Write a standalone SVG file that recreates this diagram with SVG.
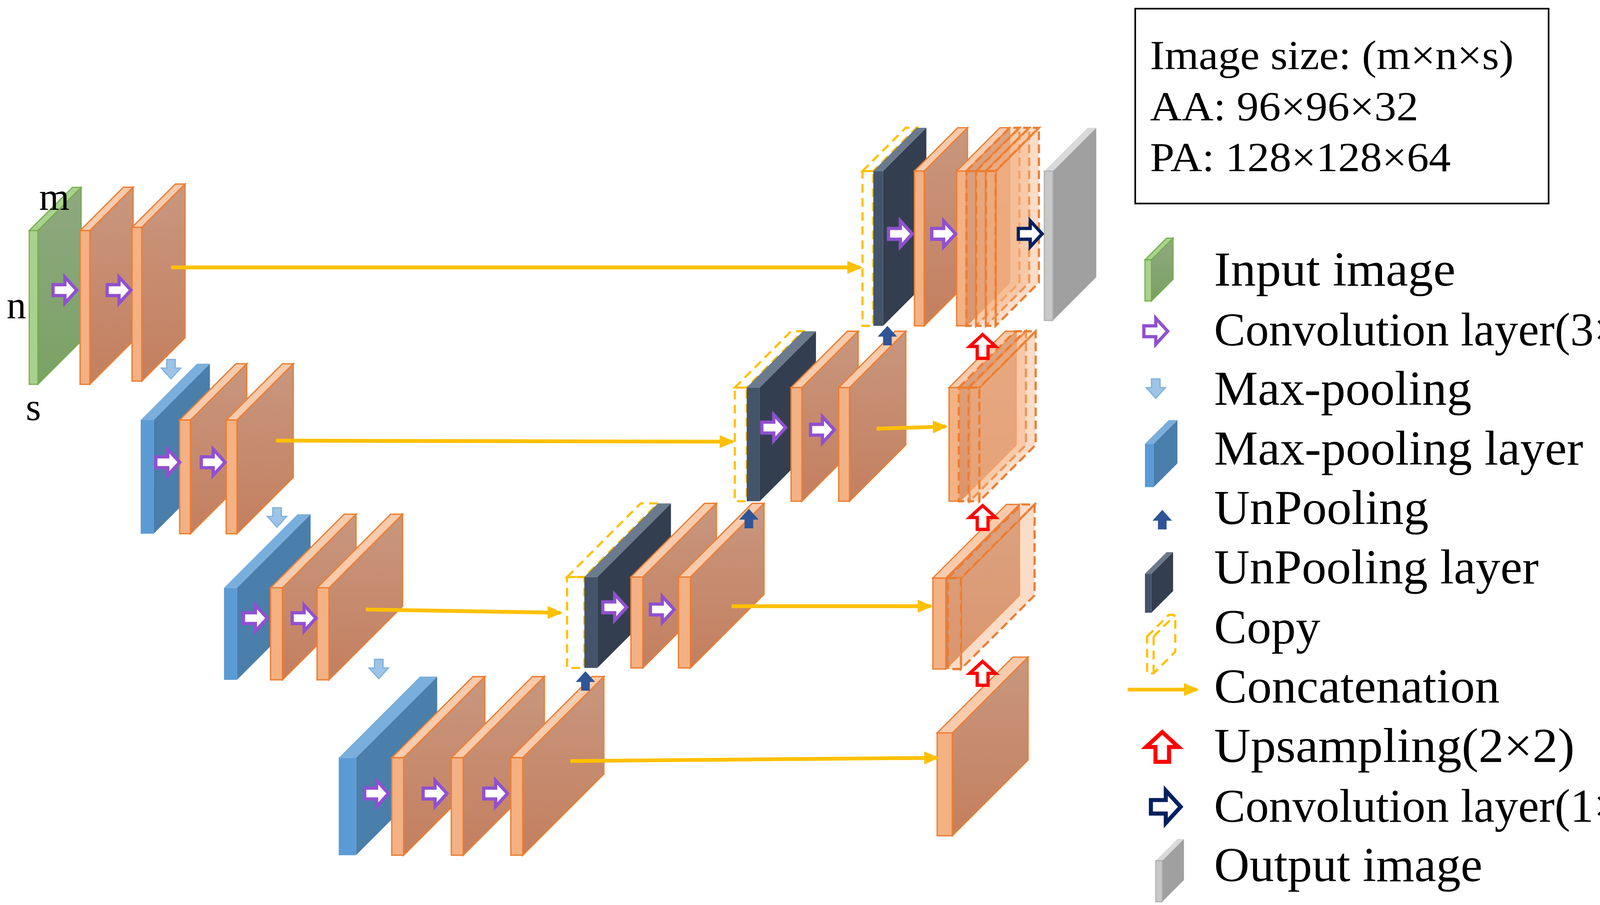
<svg xmlns="http://www.w3.org/2000/svg" width="4344" height="2316" viewBox="0 0 4344 2316">
<style>
.of{fill:url(#og);stroke:#ed7d31;stroke-width:1.2}
.ot{fill:#f8cbad;stroke:#ed7d31;stroke-width:1.2}
.os{fill:#f4b183;stroke:#ed7d31;stroke-width:1.2}
.cp{fill:#f4b183;fill-opacity:0.45;stroke:#ed7d31;stroke-width:2;stroke-dasharray:8 4}
.gf{fill:url(#gg);stroke:#70ad47;stroke-width:1}
.gs{fill:#a9d18e;stroke:#70ad47;stroke-width:1}
.bf{fill:#4a7eab}.bt{fill:#7aaedc}.bs{fill:#5b9bd5}
.df{fill:#333f50}.dt{fill:#6b7a8c}.ds{fill:#44546a}
.yf{fill:#a0a0a0}.yt{fill:#d9d9d9}.ys{fill:#c8c8c8;stroke:#b0b0b0;stroke-width:1}
.copy{fill:none;stroke:#ffc000;stroke-width:2;stroke-dasharray:8 5}
.cn{stroke:#ffc000;stroke-width:3.5;fill:none;marker-end:url(#ah)}
.pu{fill:#fff;stroke:#9050d0;stroke-width:3}
.nv{fill:#fff;stroke:#002060;stroke-width:3}
.rd{fill:#fff;stroke:#ff0000;stroke-width:3}
.dn{fill:#9dc3e6;stroke:#7aaedc;stroke-width:1}
.up{fill:#2f5597}
</style>
<defs>
<linearGradient id="og" x1="0" y1="0" x2="0" y2="1"><stop offset="0" stop-color="#c8977f"/><stop offset="1" stop-color="#c47f5f"/></linearGradient>
<linearGradient id="gg" x1="0" y1="0" x2="0" y2="1"><stop offset="0" stop-color="#8fa880"/><stop offset="1" stop-color="#7aa265"/></linearGradient>
<marker id="ah" markerUnits="userSpaceOnUse" markerWidth="14" markerHeight="12" refX="12" refY="6" orient="auto"><path d="M0,0 L14,6 L0,12 Z" fill="#ffc000"/></marker>
<polygon id="ra" points="-11,-5 0,-5 0,-12 11,0 0,12 0,5 -11,5"/>
<polygon id="ua" points="-5,11 -5,0 -12,0 0,-11 12,0 5,0 5,11"/>
<polygon id="da" points="-4,-10 4,-10 4,-2 9,-2 0,8 -9,-2 -4,-2"/>
<polygon id="uf" points="-4,10 4,10 4,2 9,2 0,-8 -9,2 -4,2"/>
</defs>
<rect width="4344" height="2316" fill="#fff"/>
<g transform="scale(2.7704)">
<g id="encoder1">
<polygon class="gf" points="35,213 75,173 75,315 35,355"/><polygon class="gs" points="27,213 67,173 75,173 35,213"/><rect class="gs" x="27" y="213" width="8" height="142"/>
<polygon class="of" points="83,213 123,173 123,315 83,355"/><polygon class="ot" points="74,213 114,173 123,173 83,213"/><rect class="os" x="74" y="213" width="9" height="142"/>
<polygon class="of" points="131,210 171,170 171,312 131,352"/><polygon class="ot" points="122,210 162,170 171,170 131,210"/><rect class="os" x="122" y="210" width="9" height="142"/>
</g>
<g id="encoder2">
<polygon class="bf" points="142,388 194,336 194,441 142,493"/><polygon class="bt" points="130,388 182,336 194,336 142,388"/><rect class="bs" x="130" y="388" width="12" height="105"/>
<polygon class="of" points="176,388 228,336 228,441 176,493"/><polygon class="ot" points="166,388 218,336 228,336 176,388"/><rect class="os" x="166" y="388" width="10" height="105"/>
<polygon class="of" points="219,388 271,336 271,441 219,493"/><polygon class="ot" points="209,388 261,336 271,336 219,388"/><rect class="os" x="209" y="388" width="10" height="105"/>
</g>
<g id="encoder3">
<polygon class="bf" points="219,543 287,475 287,560 219,628"/><polygon class="bt" points="207,543 275,475 287,475 219,543"/><rect class="bs" x="207" y="543" width="12" height="85"/>
<polygon class="of" points="261,543 329,475 329,560 261,628"/><polygon class="ot" points="250,543 318,475 329,475 261,543"/><rect class="os" x="250" y="543" width="11" height="85"/>
<polygon class="of" points="304,543 372,475 372,560 304,628"/><polygon class="ot" points="293,543 361,475 372,475 304,543"/><rect class="os" x="293" y="543" width="11" height="85"/>
</g>
<g id="bottleneck">
<polygon class="bf" points="329,700 404,625 404,715 329,790"/><polygon class="bt" points="313,700 388,625 404,625 329,700"/><rect class="bs" x="313" y="700" width="16" height="90"/>
<polygon class="of" points="373,700 448,625 448,715 373,790"/><polygon class="ot" points="362,700 437,625 448,625 373,700"/><rect class="os" x="362" y="700" width="11" height="90"/>
<polygon class="of" points="428,700 503,625 503,715 428,790"/><polygon class="ot" points="417,700 492,625 503,625 428,700"/><rect class="os" x="417" y="700" width="11" height="90"/>
<polygon class="of" points="483,700 558,625 558,715 483,790"/><polygon class="ot" points="472,700 547,625 558,625 483,700"/><rect class="os" x="472" y="700" width="11" height="90"/>
</g>
<g id="decoder3">
<rect class="copy" x="524" y="533" width="16" height="84"/><polygon class="copy" points="524,533 592,465 608,465 540,533"/>
<polygon class="df" points="552,533 620,465 620,549 552,617"/><polygon class="dt" points="540,533 608,465 620,465 552,533"/><rect class="ds" x="540" y="533" width="12" height="84"/>
<polygon class="of" points="594,533 662,465 662,549 594,617"/><polygon class="ot" points="583,533 651,465 662,465 594,533"/><rect class="os" x="583" y="533" width="11" height="84"/>
<polygon class="of" points="638,533 706,465 706,549 638,617"/><polygon class="ot" points="627,533 695,465 706,465 638,533"/><rect class="os" x="627" y="533" width="11" height="84"/>
</g>
<g id="decoder2">
<rect class="copy" x="679" y="358" width="11" height="105"/><polygon class="copy" points="679,358 731,306 742,306 690,358"/>
<polygon class="df" points="702,358 754,306 754,411 702,463"/><polygon class="dt" points="690,358 742,306 754,306 702,358"/><rect class="ds" x="690" y="358" width="12" height="105"/>
<polygon class="of" points="741,358 793,306 793,411 741,463"/><polygon class="ot" points="731,358 783,306 793,306 741,358"/><rect class="os" x="731" y="358" width="10" height="105"/>
<polygon class="of" points="785,358 837,306 837,411 785,463"/><polygon class="ot" points="775,358 827,306 837,306 785,358"/><rect class="os" x="775" y="358" width="10" height="105"/>
</g>
<g id="decoder1">
<rect class="copy" x="797" y="158" width="10" height="143"/><polygon class="copy" points="797,158 837,118 847,118 807,158"/>
<polygon class="df" points="816,158 856,118 856,261 816,301"/><polygon class="dt" points="807,158 847,118 856,118 816,158"/><rect class="ds" x="807" y="158" width="9" height="143"/>
<polygon class="of" points="854,158 894,118 894,261 854,301"/><polygon class="ot" points="845,158 885,118 894,118 854,158"/><rect class="os" x="845" y="158" width="9" height="143"/>
<polygon class="of" points="893,158 933,118 933,261 893,301"/><polygon class="ot" points="884,158 924,118 933,118 893,158"/><rect class="os" x="884" y="158" width="9" height="143"/>
<polygon class="cp" points="902,158 942,118 942,261 902,301"/><polygon class="cp" points="893,158 933,118 942,118 902,158"/><rect class="cp" x="893" y="158" width="9" height="143"/>
<polygon class="cp" points="911,158 951,118 951,261 911,301"/><polygon class="cp" points="902,158 942,118 951,118 911,158"/><rect class="cp" x="902" y="158" width="9" height="143"/>
<polygon class="cp" points="920,158 960,118 960,261 920,301" fill-opacity="0.3"/><polygon class="cp" points="911,158 951,118 960,118 920,158"/><rect class="cp" x="911" y="158" width="9" height="143"/>
</g>
<g id="output">
<polygon class="yf" points="973,158 1013,118 1013,256 973,296"/><polygon class="yt" points="965,158 1005,118 1013,118 973,158"/><rect class="ys" x="965" y="158" width="8" height="138"/>
</g>
<g id="up2">
<polygon class="of" points="887,358 939,306 939,411 887,463"/><polygon class="ot" points="877,358 929,306 939,306 887,358"/><rect class="os" x="877" y="358" width="10" height="105"/>
<polygon class="cp" points="896,358 948,306 948,411 896,463"/><polygon class="cp" points="886,358 938,306 948,306 896,358"/><rect class="cp" x="886" y="358" width="10" height="105"/>
<polygon class="cp" points="905,358 957,306 957,411 905,463" fill-opacity="0.3"/><polygon class="cp" points="895,358 947,306 957,306 905,358"/><rect class="cp" x="895" y="358" width="10" height="105"/>
</g>
<g id="up3">
<polygon class="of" points="874,534 942,466 942,550 874,618"/><polygon class="ot" points="862,534 930,466 942,466 874,534"/><rect class="os" x="862" y="534" width="12" height="84"/>
<polygon class="cp" points="888,534 956,466 956,550 888,618" fill-opacity="0.3"/><polygon class="cp" points="876,534 944,466 956,466 888,534"/><rect class="cp" x="876" y="534" width="12" height="84"/>
</g>
<g id="up4">
<polygon class="of" points="880,677 950,607 950,702 880,772"/><polygon class="ot" points="866,677 936,607 950,607 880,677"/><rect class="os" x="866" y="677" width="14" height="95"/>
</g>
<g id="connectors">
<line class="cn" x1="158" y1="247" x2="795" y2="247"/>
<line class="cn" x1="255" y1="407" x2="677" y2="408"/>
<line class="cn" x1="338" y1="563" x2="518" y2="566"/>
<line class="cn" x1="527" y1="703" x2="866" y2="700"/>
<line class="cn" x1="676" y1="560" x2="860" y2="560"/>
<line class="cn" x1="810" y1="396" x2="874" y2="394"/>
<g class="pu">
<use href="#ra" x="60" y="268"/><use href="#ra" x="110" y="268"/><use href="#ra" x="155" y="427"/><use href="#ra" x="197" y="427"/>
<use href="#ra" x="236" y="571"/><use href="#ra" x="281" y="571"/><use href="#ra" x="348" y="733"/><use href="#ra" x="402" y="733"/><use href="#ra" x="458" y="733"/>
<use href="#ra" x="568" y="561"/><use href="#ra" x="612" y="563"/><use href="#ra" x="715" y="395"/><use href="#ra" x="760" y="397"/><use href="#ra" x="832" y="216"/><use href="#ra" x="872" y="216"/>
</g>
<use class="nv" href="#ra" x="952" y="216"/>
<g class="rd"><use href="#ua" x="908" y="320"/><use href="#ua" x="908" y="478"/><use href="#ua" x="908" y="622"/></g>
<g class="dn"><use href="#da" x="158" y="342"/><use href="#da" x="256" y="479"/><use href="#da" x="350" y="619"/></g>
<g class="up"><use href="#uf" x="820" y="309"/><use href="#uf" x="692" y="478"/><use href="#uf" x="541" y="628"/></g>
</g>
<g id="legend-shapes">
<rect x="1049" y="8" width="382" height="180" fill="#fff" stroke="#000" stroke-width="1.5"/>
<polygon class="gf" points="1064,240 1084,220 1084,258 1064,278"/><polygon class="gs" points="1058,240 1078,220 1084,220 1064,240"/><rect class="gs" x="1058" y="240" width="6" height="38"/>
<use class="pu" href="#ra" x="1068" y="306"/>
<use class="dn" href="#da" x="1068" y="360"/>
<polygon class="bf" points="1066,410 1088,388 1088,428 1066,450"/><polygon class="bt" points="1058,410 1080,388 1088,388 1066,410"/><rect class="bs" x="1058" y="410" width="8" height="40"/>
<use class="up" href="#uf" x="1074" y="479"/>
<polygon class="df" points="1064,530 1084,510 1084,546 1064,566"/><polygon class="dt" points="1058,530 1078,510 1084,510 1064,530"/><rect class="ds" x="1058" y="530" width="6" height="36"/>
<polygon class="copy" points="1060,588 1080,568 1086,568 1086,602 1066,622 1060,622"/><line class="copy" x1="1066" y1="588" x2="1066" y2="622"/><line class="copy" x1="1066" y1="588" x2="1086" y2="568"/>
<line class="cn" x1="1042" y1="637" x2="1106" y2="637"/>
<use class="rd" href="#ua" x="1074" y="690" transform="translate(-268.5 -172.5) scale(1.25)"/>
<use class="nv" href="#ra" x="1077" y="745" transform="translate(-269 -186) scale(1.25)"/>
<polygon class="yf" points="1074,795 1094,775 1094,813 1074,833"/><polygon class="yt" points="1068,795 1088,775 1094,775 1074,795"/><rect class="ys" x="1068" y="795" width="6" height="38"/>
</g>
</g>
<g id="labels">
<text x="100" y="537" font-family="Liberation Serif" font-size="100">m</text>
<text x="17" y="814" font-family="Liberation Serif" font-size="100">n</text>
<text x="66" y="1075" font-family="Liberation Serif" font-size="100">s</text>
<text x="2944" y="177" font-family="Liberation Serif" font-size="105" textLength="931" lengthAdjust="spacingAndGlyphs">Image size: (m×n×s)</text>
<text x="2944" y="308" font-family="Liberation Serif" font-size="105" textLength="687" lengthAdjust="spacingAndGlyphs">AA: 96×96×32</text>
<text x="2944" y="438" font-family="Liberation Serif" font-size="105" textLength="770" lengthAdjust="spacingAndGlyphs">PA: 128×128×64</text>
<text x="3108" y="731" font-family="Liberation Serif" font-size="125" textLength="618" lengthAdjust="spacingAndGlyphs">Input image</text>
<text x="3108" y="884" font-family="Liberation Serif" font-size="120" textLength="1140" lengthAdjust="spacingAndGlyphs">Convolution layer(3×3)</text>
<text x="3108" y="1036" font-family="Liberation Serif" font-size="125" textLength="659" lengthAdjust="spacingAndGlyphs">Max-pooling</text>
<text x="3108" y="1189" font-family="Liberation Serif" font-size="125" textLength="945" lengthAdjust="spacingAndGlyphs">Max-pooling layer</text>
<text x="3108" y="1341" font-family="Liberation Serif" font-size="125" textLength="549" lengthAdjust="spacingAndGlyphs">UnPooling</text>
<text x="3108" y="1493" font-family="Liberation Serif" font-size="125" textLength="831" lengthAdjust="spacingAndGlyphs">UnPooling layer</text>
<text x="3108" y="1646" font-family="Liberation Serif" font-size="125" textLength="272" lengthAdjust="spacingAndGlyphs">Copy</text>
<text x="3108" y="1798" font-family="Liberation Serif" font-size="125" textLength="731" lengthAdjust="spacingAndGlyphs">Concatenation</text>
<text x="3108" y="1950" font-family="Liberation Serif" font-size="125" textLength="923" lengthAdjust="spacingAndGlyphs">Upsampling(2×2)</text>
<text x="3108" y="2103" font-family="Liberation Serif" font-size="120" textLength="1140" lengthAdjust="spacingAndGlyphs">Convolution layer(1×1)</text>
<text x="3108" y="2255" font-family="Liberation Serif" font-size="125" textLength="687" lengthAdjust="spacingAndGlyphs">Output image</text>
</g>
</svg>
